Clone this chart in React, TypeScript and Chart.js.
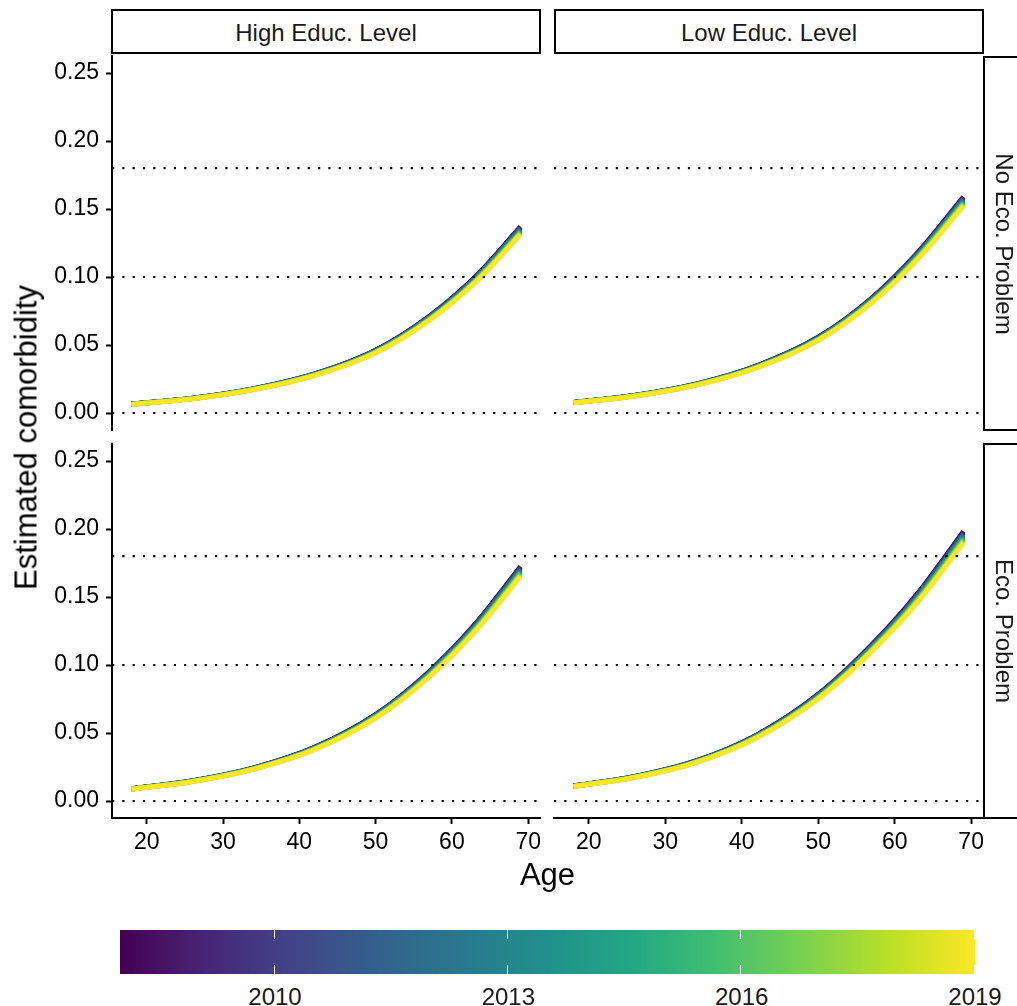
import React, { useEffect, useRef } from "react";
import { Chart, registerables } from "chart.js";

Chart.register(...registerables);

// Ages at which the fitted curves are sampled
const AGES = [18, 26, 34, 42, 50, 57, 63, 69];

// Survey years (one curve per year) and their viridis colours
const YEARS = [2008, 2009, 2010, 2011, 2012, 2013, 2014, 2015, 2016, 2017, 2018, 2019];
const YEAR_COLORS = [
  "#440154", "#482173", "#433E85", "#38598C", "#2D708E", "#25858E",
  "#1E9B8A", "#2BB07F", "#51C56A", "#85D54A", "#C2DF23", "#FDE725",
];

// Estimated comorbidity, rows = years 2008..2019, columns = AGES
const HIGH_NO_ECO = [
  [0.00660, 0.01090, 0.01790, 0.02880, 0.04620, 0.07100, 0.09980, 0.13700],
  [0.00657, 0.01086, 0.01783, 0.02869, 0.04602, 0.07072, 0.09941, 0.13647],
  [0.00655, 0.01081, 0.01776, 0.02858, 0.04584, 0.07045, 0.09902, 0.13593],
  [0.00652, 0.01077, 0.01769, 0.02846, 0.04566, 0.07017, 0.09863, 0.13540],
  [0.00650, 0.01073, 0.01762, 0.02835, 0.04548, 0.06989, 0.09824, 0.13486],
  [0.00647, 0.01069, 0.01755, 0.02824, 0.04530, 0.06962, 0.09785, 0.13433],
  [0.00645, 0.01064, 0.01748, 0.02813, 0.04512, 0.06934, 0.09746, 0.13379],
  [0.00642, 0.01060, 0.01741, 0.02801, 0.04494, 0.06906, 0.09708, 0.13326],
  [0.00639, 0.01056, 0.01734, 0.02790, 0.04476, 0.06878, 0.09669, 0.13273],
  [0.00637, 0.01052, 0.01727, 0.02779, 0.04458, 0.06851, 0.09630, 0.13219],
  [0.00634, 0.01047, 0.01720, 0.02768, 0.04440, 0.06823, 0.09591, 0.13166],
  [0.00632, 0.01043, 0.01713, 0.02756, 0.04422, 0.06795, 0.09552, 0.13112],
];

const LOW_NO_ECO = [
  [0.00780, 0.01300, 0.02130, 0.03480, 0.05580, 0.08460, 0.11800, 0.15900],
  [0.00777, 0.01295, 0.02122, 0.03466, 0.05558, 0.08427, 0.11754, 0.15838],
  [0.00774, 0.01290, 0.02113, 0.03453, 0.05537, 0.08394, 0.11708, 0.15776],
  [0.00771, 0.01285, 0.02105, 0.03439, 0.05515, 0.08361, 0.11662, 0.15714],
  [0.00768, 0.01280, 0.02097, 0.03426, 0.05493, 0.08328, 0.11616, 0.15652],
  [0.00765, 0.01275, 0.02088, 0.03412, 0.05471, 0.08295, 0.11570, 0.15590],
  [0.00762, 0.01270, 0.02080, 0.03399, 0.05449, 0.08262, 0.11524, 0.15528],
  [0.00759, 0.01265, 0.02072, 0.03385, 0.05428, 0.08229, 0.11478, 0.15466],
  [0.00756, 0.01259, 0.02064, 0.03371, 0.05406, 0.08196, 0.11432, 0.15404],
  [0.00753, 0.01254, 0.02055, 0.03358, 0.05384, 0.08163, 0.11386, 0.15342],
  [0.00750, 0.01249, 0.02047, 0.03344, 0.05362, 0.08130, 0.11340, 0.15280],
  [0.00747, 0.01244, 0.02039, 0.03331, 0.05341, 0.08097, 0.11294, 0.15218],
];

const HIGH_ECO = [
  [0.00910, 0.01490, 0.02440, 0.03950, 0.06360, 0.09510, 0.12990, 0.17250],
  [0.00906, 0.01484, 0.02430, 0.03935, 0.06335, 0.09473, 0.12939, 0.17183],
  [0.00903, 0.01478, 0.02421, 0.03919, 0.06310, 0.09436, 0.12889, 0.17116],
  [0.00899, 0.01473, 0.02411, 0.03904, 0.06286, 0.09399, 0.12838, 0.17048],
  [0.00896, 0.01467, 0.02402, 0.03888, 0.06261, 0.09362, 0.12787, 0.16981],
  [0.00892, 0.01461, 0.02392, 0.03873, 0.06236, 0.09325, 0.12737, 0.16914],
  [0.00889, 0.01455, 0.02383, 0.03858, 0.06211, 0.09287, 0.12686, 0.16846],
  [0.00885, 0.01449, 0.02373, 0.03842, 0.06186, 0.09250, 0.12635, 0.16779],
  [0.00882, 0.01444, 0.02364, 0.03827, 0.06162, 0.09213, 0.12585, 0.16712],
  [0.00878, 0.01438, 0.02354, 0.03811, 0.06137, 0.09176, 0.12534, 0.16645],
  [0.00875, 0.01432, 0.02345, 0.03796, 0.06112, 0.09139, 0.12483, 0.16577],
  [0.00871, 0.01426, 0.02335, 0.03781, 0.06087, 0.09102, 0.12433, 0.16510],
];

const LOW_ECO = [
  [0.01110, 0.01810, 0.02950, 0.04870, 0.07850, 0.11490, 0.15270, 0.19830],
  [0.01106, 0.01803, 0.02938, 0.04851, 0.07819, 0.11445, 0.15210, 0.19753],
  [0.01101, 0.01796, 0.02927, 0.04832, 0.07789, 0.11400, 0.15151, 0.19675],
  [0.01097, 0.01789, 0.02915, 0.04813, 0.07758, 0.11356, 0.15091, 0.19598],
  [0.01093, 0.01782, 0.02904, 0.04794, 0.07728, 0.11311, 0.15032, 0.19521],
  [0.01088, 0.01775, 0.02892, 0.04775, 0.07697, 0.11266, 0.14972, 0.19443],
  [0.01084, 0.01768, 0.02881, 0.04756, 0.07666, 0.11221, 0.14913, 0.19366],
  [0.01080, 0.01761, 0.02869, 0.04737, 0.07636, 0.11176, 0.14853, 0.19289],
  [0.01075, 0.01754, 0.02858, 0.04718, 0.07605, 0.11132, 0.14794, 0.19211],
  [0.01071, 0.01746, 0.02846, 0.04699, 0.07574, 0.11087, 0.14734, 0.19134],
  [0.01067, 0.01739, 0.02835, 0.04680, 0.07544, 0.11042, 0.14675, 0.19057],
  [0.01062, 0.01732, 0.02823, 0.04661, 0.07513, 0.10997, 0.14615, 0.18979],
];

// Dotted reference lines
const REF_LINES = [0, 0.1, 0.18];

// Axes
const X_MIN = 15.45;
const X_MAX = 71.55;
const Y_MIN = -0.0125;
const Y_MAX = 0.2625;
const X_TICKS = [20, 30, 40, 50, 60, 70];
const Y_TICKS = [0, 0.05, 0.1, 0.15, 0.2, 0.25];

// Facet labels
const COL_LABELS = ["High Educ. Level", "Low Educ. Level"];
const ROW_LABELS = ["No Eco. Problem", "Eco. Problem"];

// Colour bar
const BAR_MIN = 2008;
const BAR_MAX = 2019;
const BAR_TICKS = [2010, 2013, 2016, 2019];
const VIRIDIS_STOPS = [
  "#440154", "#482576", "#414487", "#35608D", "#2A788E", "#21908C",
  "#22A884", "#43BF71", "#7AD151", "#BBDF27", "#FDE725",
];

const FONT = "'Liberation Sans', Arial, Helvetica, sans-serif";
const TICK = 23;
const SMALL = 24;
const TITLE = 31;

type PanelProps = {
  rows: number[][];
  showX: boolean;
  showY: boolean;
  left: number;
  top: number;
  width: number;
  height: number;
  pad: { left: number; top: number; right: number; bottom: number };
  yAxisWidth: number;
  xAxisHeight: number;
};

function FacetPanel(props: PanelProps) {
  const ref = useRef<HTMLCanvasElement>(null);
  useEffect(() => {
    const { rows, showX, showY, pad, yAxisWidth, xAxisHeight } = props;
    const datasets: any[] = [];
    // reference lines first so they are painted on top of the curves
    REF_LINES.forEach((y) => {
      datasets.push({
        data: [{ x: X_MIN, y }, { x: X_MAX, y }],
        borderColor: "#000",
        borderWidth: 2.2,
        borderDash: [2.2, 8.1],
        borderCapStyle: "butt",
        pointRadius: 0,
        tension: 0,
      });
    });
    // latest year first, so 2019 ends up above 2008
    for (let k = YEARS.length - 1; k >= 0; k--) {
      datasets.push({
        label: String(YEARS[k]),
        data: AGES.map((a, i) => ({ x: a, y: rows[k][i] })),
        borderColor: YEAR_COLORS[k],
        borderWidth: 4.8,
        borderCapStyle: "butt",
        pointRadius: 0,
        cubicInterpolationMode: "monotone",
      });
    }
    const tickFont = { family: FONT, size: TICK };
    const chart = new Chart(ref.current!, {
      type: "line",
      data: { datasets },
      options: {
        animation: false,
        responsive: false,
        devicePixelRatio: 1,
        events: [],
        layout: { padding: pad },
        plugins: { legend: { display: false }, tooltip: { enabled: false } },
        scales: {
          x: {
            type: "linear",
            min: X_MIN,
            max: X_MAX,
            display: showX,
            afterBuildTicks: (s: any) => {
              s.ticks = X_TICKS.map((v) => ({ value: v }));
            },
            afterFit: (s: any) => {
              s.height = xAxisHeight;
              s.paddingLeft = 0;
              s.paddingRight = 0;
            },
            grid: {
              drawOnChartArea: false,
              drawTicks: true,
              tickLength: 6,
              tickWidth: 2,
              tickColor: "#000",
            },
            border: { display: true, color: "#000", width: 2 },
            ticks: {
              color: "#000",
              font: tickFont,
              padding: 5,
              maxRotation: 0,
              autoSkip: false,
              callback: (v: any) => String(v),
            },
          },
          y: {
            type: "linear",
            min: Y_MIN,
            max: Y_MAX,
            display: showY,
            afterBuildTicks: (s: any) => {
              s.ticks = Y_TICKS.map((v) => ({ value: v }));
            },
            afterFit: (s: any) => {
              s.width = yAxisWidth;
              s.paddingTop = 0;
              s.paddingBottom = 0;
            },
            grid: {
              drawOnChartArea: false,
              drawTicks: true,
              tickLength: 6,
              tickWidth: 2,
              tickColor: "#000",
            },
            border: { display: true, color: "#000", width: 2 },
            ticks: {
              color: "#000",
              font: tickFont,
              padding: 7,
              autoSkip: false,
              callback: (v: any) => Number(v).toFixed(2),
            },
          },
        },
      } as any,
    });
    return () => chart.destroy();
  }, []);
  return (
    <canvas
      ref={ref}
      width={props.width}
      height={props.height}
      style={{
        position: "absolute",
        left: props.left,
        top: props.top,
        width: props.width,
        height: props.height,
      }}
    />
  );
}

const stripBase: React.CSSProperties = {
  position: "absolute",
  boxSizing: "border-box",
  border: "2px solid #000",
  background: "#fff",
  fontFamily: FONT,
  fontSize: SMALL,
  color: "#1a1a1a",
};

function ColumnStrip({ label, left }: { label: string; left: number }) {
  return (
    <div
      style={{
        ...stripBase,
        left,
        top: 9,
        width: 430,
        height: 45,
        display: "flex",
        alignItems: "center",
        justifyContent: "center",
        lineHeight: `${SMALL}px`,
        paddingTop: 2,
      }}
    >
      {label}
    </div>
  );
}

function RowStrip({ label, top, height }: { label: string; top: number; height: number }) {
  return (
    <>
      <div style={{ ...stripBase, left: 983, top, width: 60, height }} />
      <div
        style={{
          position: "absolute",
          left: 1004 - 200,
          top: top + height / 2 - SMALL / 2,
          width: 400,
          height: SMALL,
          lineHeight: `${SMALL}px`,
          textAlign: "center",
          fontFamily: FONT,
          fontSize: SMALL,
          color: "#1a1a1a",
          transform: "rotate(90deg)",
          whiteSpace: "nowrap",
        }}
      >
        {label}
      </div>
    </>
  );
}

function ColourBar() {
  const left = 119.5;
  const width = 855.5;
  const top = 930;
  const height = 44;
  const pos = (y: number) => left + ((y - BAR_MIN) / (BAR_MAX - BAR_MIN)) * width;
  const gradient = `linear-gradient(to right, ${VIRIDIS_STOPS.map(
    (c, i) => `${c} ${(i / (VIRIDIS_STOPS.length - 1)) * 100}%`
  ).join(", ")})`;
  const tickLen = height / 5;
  return (
    <>
      <div style={{ position: "absolute", left, top, width, height, background: gradient }} />
      {BAR_TICKS.map((y) => (
        <React.Fragment key={y}>
          <div
            style={{ position: "absolute", left: pos(y) - 1.5, top, width: 1, height: tickLen, background: "#fff" }}
          />
          <div
            style={{
              position: "absolute",
              left: pos(y) - 1.5,
              top: top + height - tickLen,
              width: 1,
              height: tickLen,
              background: "#fff",
            }}
          />
          <div
            style={{
              position: "absolute",
              left: pos(y) - 50,
              top: 985,
              width: 100,
              textAlign: "center",
              fontFamily: FONT,
              fontSize: SMALL,
              lineHeight: `${SMALL}px`,
              color: "#1a1a1a",
            }}
          >
            {y}
          </div>
        </React.Fragment>
      ))}
    </>
  );
}

export default function App() {
  return (
    <div
      style={{
        position: "absolute",
        left: 0,
        top: 0,
        width: 1017,
        height: 1006,
        overflow: "hidden",
        background: "#fff",
      }}
    >
      <FacetPanel
        rows={HIGH_NO_ECO}
        showX={false}
        showY={true}
        left={0}
        top={46}
        width={548}
        height={390}
        pad={{ left: 0, top: 10, right: 8, bottom: 6 }}
        yAxisWidth={112}
        xAxisHeight={0}
      />
      <FacetPanel
        rows={LOW_NO_ECO}
        showX={false}
        showY={false}
        left={548}
        top={46}
        width={440}
        height={390}
        pad={{ left: 6, top: 10, right: 5, bottom: 6 }}
        yAxisWidth={0}
        xAxisHeight={0}
      />
      <FacetPanel
        rows={HIGH_ECO}
        showX={true}
        showY={true}
        left={0}
        top={434}
        width={548}
        height={430}
        pad={{ left: 0, top: 10, right: 8, bottom: 0 }}
        yAxisWidth={112}
        xAxisHeight={46}
      />
      <FacetPanel
        rows={LOW_ECO}
        showX={true}
        showY={false}
        left={548}
        top={434}
        width={440}
        height={430}
        pad={{ left: 6, top: 10, right: 5, bottom: 0 }}
        yAxisWidth={0}
        xAxisHeight={46}
      />

      <ColumnStrip label={COL_LABELS[0]} left={111} />
      <ColumnStrip label={COL_LABELS[1]} left={554} />
      <RowStrip label={ROW_LABELS[0]} top={56} height={375} />
      <RowStrip label={ROW_LABELS[1]} top={443} height={376} />

      <div
        style={{
          position: "absolute",
          left: 26 - 300,
          top: 437 - TITLE / 2,
          width: 600,
          height: TITLE,
          lineHeight: `${TITLE}px`,
          textAlign: "center",
          fontFamily: FONT,
          fontSize: TITLE,
          color: "#000",
          transform: "rotate(-90deg)",
          whiteSpace: "nowrap",
        }}
      >
        Estimated comorbidity
      </div>
      <div
        style={{
          position: "absolute",
          left: 547.5 - 100,
          top: 858.5,
          width: 200,
          height: TITLE,
          lineHeight: `${TITLE}px`,
          textAlign: "center",
          fontFamily: FONT,
          fontSize: TITLE,
          color: "#000",
        }}
      >
        Age
      </div>

      <ColourBar />
    </div>
  );
}
